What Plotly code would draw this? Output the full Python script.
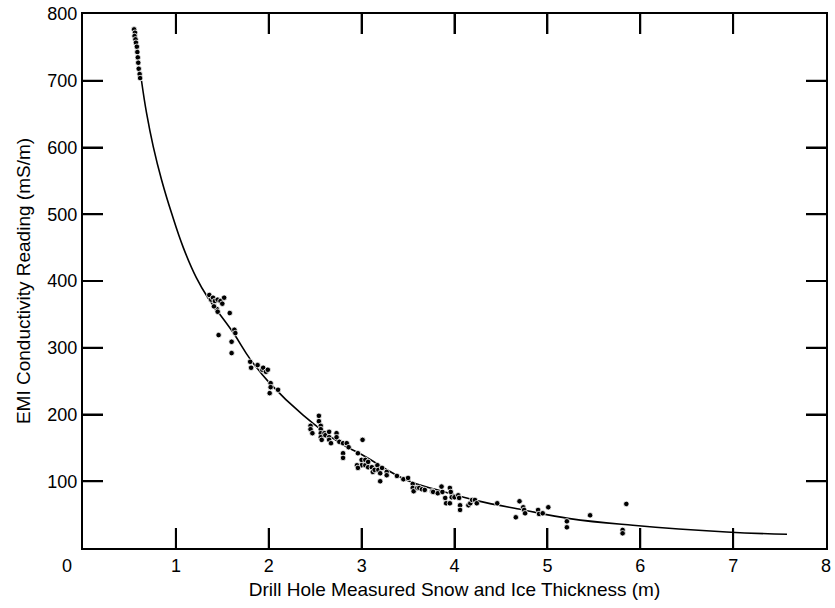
import plotly.graph_objects as go

# Drill-hole thickness (m) vs EMI conductivity (mS/m) measurements
thickness_m = [
    0.55, 0.56, 0.555, 0.565, 0.57, 0.58, 0.585, 0.59, 0.595, 0.60, 0.61, 0.615,
    1.36, 1.38, 1.40, 1.42, 1.45, 1.48, 1.52, 1.50, 1.44, 1.45, 1.41, 1.58, 1.46,
    1.63, 1.64, 1.60, 1.60, 1.80, 1.81, 1.88, 1.93, 1.94, 1.97, 1.99, 2.02, 2.02,
    2.01, 2.10,
    2.45, 2.45, 2.47, 2.54, 2.54, 2.56, 2.56, 2.56, 2.56, 2.57, 2.60, 2.61, 2.65,
    2.65, 2.65, 2.67, 2.73, 2.73, 2.76, 2.80, 2.84, 2.86, 2.80, 2.80, 3.01, 2.96,
    3.00, 3.00, 3.04, 3.04, 3.07, 3.07, 3.11, 3.12, 3.14, 3.17, 3.18, 3.20, 2.95,
    2.96, 3.27, 3.27, 3.22, 3.20,
    3.38, 3.45, 3.50, 3.55, 3.55, 3.56, 3.60, 3.62, 3.65, 3.68, 3.76, 3.77, 3.82,
    3.87, 3.86, 3.90, 3.91, 3.95, 3.96, 3.97, 4.00, 4.04, 4.05, 3.95, 4.06, 4.06,
    4.15, 4.17, 4.19, 4.22, 4.24, 4.46,
    4.70, 4.66, 4.74, 4.75, 4.76, 4.90, 4.91, 4.95, 5.01, 5.21, 5.21, 5.46, 5.85,
    5.81, 5.81,
]
conductivity_mSm = [
    777, 772, 767, 762, 757, 751, 743, 735, 727, 718, 710, 704,
    379, 372, 375, 370, 372, 370, 375, 366, 358, 354, 362, 352, 319,
    327, 322, 309, 292, 279, 270, 274, 267, 270, 264, 267, 247, 241,
    232, 237,
    183, 178, 172, 198, 190, 183, 178, 172, 166, 162, 172, 169, 174,
    166, 162, 157, 172, 166, 159, 157, 157, 151, 142, 135, 162, 142,
    132, 124, 132, 124, 129, 121, 121, 114, 117, 124, 117, 112, 124,
    120, 114, 109, 120, 100,
    108, 103, 105, 96, 90, 85, 90, 90, 88, 87, 85, 84, 82,
    84, 92, 75, 67, 90, 84, 76, 76, 79, 75, 67, 64, 57,
    64, 67, 72, 72, 67, 67,
    70, 46, 61, 57, 52, 57, 51, 52, 61, 40, 31, 49, 66,
    27, 22,
]

# Fitted calibration curve, sampled along its length
fit_thickness_m = [0.63, 0.685, 0.757, 0.847, 0.955, 1.08, 1.22, 1.34, 1.62,
                   1.80, 2.01, 2.37, 2.77, 3.00, 3.48, 3.84, 4.24, 4.74, 5.24,
                   5.92, 6.93, 7.58]
fit_conductivity_mSm = [700, 651, 601, 551, 501, 450, 405, 376, 322,
                        283, 247, 199, 157, 140, 102, 86, 71, 57, 44,
                        34, 24, 20.5]

x_tick_vals = [1, 2, 3, 4, 5, 6, 7, 8]
x_tick_text = ["1", "2", "3", "4", "5", "6", "7", "8"]
y_tick_vals = [100, 200, 300, 400, 500, 600, 700, 800]
y_tick_text = ["100", "200", "300", "400", "500", "600", "700", "800"]

X_RANGE = [0, 8]
Y_RANGE = [0, 800]
FONT = "Liberation Sans, Arial, Helvetica, sans-serif"
TICK_FRAC = 0.0375  # inward tick length as a fraction of the axis span

fig = go.Figure()

fig.add_trace(go.Scatter(
    x=fit_thickness_m, y=fit_conductivity_mSm,
    mode="lines",
    line=dict(color="black", width=1.6, shape="spline", smoothing=1.2),
    hoverinfo="skip", showlegend=False,
))

fig.add_trace(go.Scatter(
    x=thickness_m, y=conductivity_mSm,
    mode="markers",
    marker=dict(color="black", size=5.5, line=dict(color="white", width=0.8)),
    showlegend=False,
))

axis_common = dict(
    showgrid=False, zeroline=False,
    showline=True, linecolor="black", linewidth=2,
    mirror="allticks",
    ticks="inside", ticklen=20, tickwidth=2, tickcolor="black",
    tickfont=dict(family=FONT, size=18, color="black"),
    automargin=False,
)

fig.update_xaxes(
    range=X_RANGE, tickvals=x_tick_vals, ticktext=x_tick_text,
    title=dict(text="Drill Hole Measured Snow and Ice Thickness (m)",
               font=dict(family=FONT, size=19, color="black"), standoff=8),
    **axis_common,
)
fig.update_yaxes(
    range=Y_RANGE, tickvals=y_tick_vals, ticktext=y_tick_text,
    title=dict(text="EMI Conductivity Reading (mS/m)",
               font=dict(family=FONT, size=19, color="black"), standoff=12),
    **axis_common,
)

# Inward tick marks on all four sides of the frame, drawn as line shapes
tick_line = dict(color="black", width=2)
dy = TICK_FRAC * (Y_RANGE[1] - Y_RANGE[0])
dx = TICK_FRAC * (X_RANGE[1] - X_RANGE[0]) * (534 / 743)
for xv in x_tick_vals[:-1]:
    fig.add_shape(type="line", xref="x", yref="y", x0=xv, x1=xv,
                  y0=Y_RANGE[0], y1=Y_RANGE[0] + dy, line=tick_line)
    fig.add_shape(type="line", xref="x", yref="y", x0=xv, x1=xv,
                  y0=Y_RANGE[1] - dy, y1=Y_RANGE[1], line=tick_line)
for yv in y_tick_vals[:-1]:
    fig.add_shape(type="line", xref="x", yref="y", y0=yv, y1=yv,
                  x0=X_RANGE[0], x1=X_RANGE[0] + dx, line=tick_line)
    fig.add_shape(type="line", xref="x", yref="y", y0=yv, y1=yv,
                  x0=X_RANGE[1] - dx, x1=X_RANGE[1], line=tick_line)

# Shared origin label at the lower-left corner
fig.add_annotation(
    x=0, y=0, xref="x", yref="y", text="0", showarrow=False,
    xanchor="center", yanchor="top", xshift=-16, yshift=-6,
    font=dict(family=FONT, size=18, color="black"),
)

fig.update_layout(
    template="none",
    width=835, height=608,
    margin=dict(l=83, r=9, t=14, b=60),
    plot_bgcolor="white", paper_bgcolor="white",
)

fig.write_html("out.html")
